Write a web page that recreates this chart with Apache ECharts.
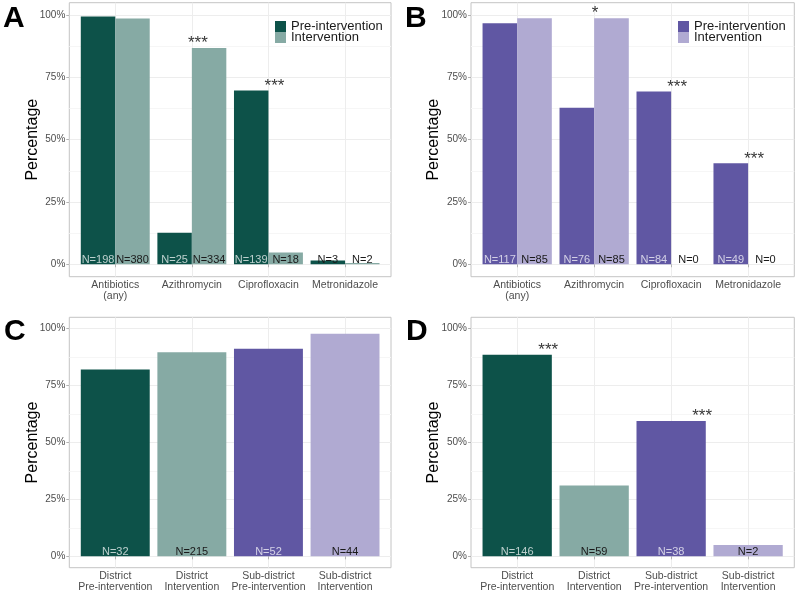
<!DOCTYPE html>
<html><head><meta charset="utf-8">
<script src="https://cdn.jsdelivr.net/npm/echarts@6/dist/echarts.min.js"></script>
<style>html,body{margin:0;padding:0;background:#fff}#c{width:797px;height:593px}</style>
</head><body><div id="c"></div>
<script>
// ---------- data ----------
const drugCategories = ['Antibiotics\n(any)', 'Azithromycin', 'Ciprofloxacin', 'Metronidazole'];
const siteCategories = ['District\nPre-intervention', 'District\nIntervention', 'Sub-district\nPre-intervention', 'Sub-district\nIntervention'];
const seriesNames = ['Pre-intervention', 'Intervention'];
const panelLetters = ['A', 'B', 'C', 'D'];
const yTicks = [0, 25, 50, 75, 100];
const yMinorTicks = [12.5, 37.5, 62.5, 87.5];

const aPre = [99.5, 12.6, 69.8, 1.5];
const aInt = [98.7, 86.8, 4.7, 0.5];
const aPreN = [198, 25, 139, 3];
const aIntN = [380, 334, 18, 2];
const aStars = ['', '***', '***', ''];

const bPre = [96.7, 62.8, 69.4, 40.5];
const bInt = [98.8, 98.8, 0, 0];
const bPreN = [117, 76, 84, 49];
const bIntN = [85, 85, 0, 0];
const bStars = ['', '*', '***', '***'];

const cVals = [82.1, 89.6, 91.2, 97.8];
const cN = [32, 215, 52, 44];

const dVals = [88.5, 31.1, 59.4, 5.0];
const dN = [146, 59, 38, 2];
const dStars = ['***', '', '***', ''];

// ---------- style ----------
const F = 'Liberation Sans, Arial, Helvetica, sans-serif';
const tealDark = '#0D5249', tealLight = '#86AAA4';
const purpDark = '#6057A3', purpLight = '#B0AAD2';
const siteColors = [tealDark, tealLight, purpDark, purpLight];
const lightText = 'rgba(255,255,255,0.72)', darkText = '#1A1A1A';

const grids = [
  {left: 69.3, top: 2.7, width: 321.7, height: 274},
  {left: 471, top: 2.7, width: 323.3, height: 274},
  {left: 69.3, top: 317.3, width: 321.7, height: 250.4},
  {left: 471, top: 317.3, width: 323.3, height: 250.4}
].map(g => Object.assign(g, {show: true, borderColor: '#C4C4C4', borderWidth: 1, backgroundColor: 'transparent'}));

function xAxisFor(gi, cats) {
  return {
    type: 'value', gridIndex: gi, min: 0.4, max: 4.6,
    axisLine: {show: false},
    axisTick: {show: true, customValues: [1, 2, 3, 4], length: 3, lineStyle: {color: '#B3B3B3'}},
    axisLabel: {customValues: [1, 2, 3, 4], formatter: v => cats[Math.round(v) - 1],
      fontSize: 10.5, lineHeight: 11, color: '#4D4D4D', margin: 3, fontFamily: F},
    splitLine: {show: true, lineStyle: {color: '#EDEDED', width: 1}}
  };
}
function yAxesFor(gi) {
  return [{
    type: 'value', gridIndex: gi, min: -5, max: 105,
    name: 'Percentage', nameLocation: 'middle', nameGap: 29, nameMoveOverlap: false,
    nameTextStyle: {fontSize: 16, color: '#000', fontFamily: F},
    axisLine: {show: false},
    axisTick: {show: true, customValues: yTicks, length: 3, lineStyle: {color: '#B3B3B3'}},
    axisLabel: {customValues: yTicks, formatter: v => v + '%', fontSize: 10, color: '#4D4D4D', margin: 4, fontFamily: F},
    splitLine: {show: true, lineStyle: {color: '#EDEDED', width: 1}}
  }, {
    type: 'value', gridIndex: gi, min: -5, max: 105, position: 'left',
    axisLine: {show: false},
    axisTick: {show: false, customValues: yMinorTicks},
    axisLabel: {show: false, customValues: yMinorTicks},
    splitLine: {show: true, lineStyle: {color: '#F6F6F6', width: 1}}
  }];
}

function labelCfg(nArr) {
  return {
    show: true, position: 'insideBottom', distance: -1,
    fontSize: 11, lineHeight: 11, fontFamily: F,
    formatter: p => 'N=' + nArr[p.dataIndex]
  };
}
function pairBars(gi, pre, int, preN, intN, cPre, cInt) {
  return [
    {type: 'bar', name: seriesNames[0], xAxisIndex: gi, yAxisIndex: 2 * gi,
      barGap: '0%', barCategoryGap: '10%', itemStyle: {color: cPre},
      label: labelCfg(preN),
      data: pre.map((v, i) => ({value: [i + 1, v], label: {color: v < 5 ? darkText : lightText}}))},
    {type: 'bar', name: seriesNames[1], xAxisIndex: gi, yAxisIndex: 2 * gi,
      barGap: '0%', barCategoryGap: '10%', itemStyle: {color: cInt},
      label: labelCfg(intN),
      data: int.map((v, i) => ({value: [i + 1, v], label: {color: darkText}}))}
  ];
}
function siteBars(gi, vals, ns) {
  return {type: 'bar', xAxisIndex: gi, yAxisIndex: 2 * gi, barCategoryGap: '10%',
    label: labelCfg(ns),
    data: vals.map((v, i) => ({value: [i + 1, v], itemStyle: {color: siteColors[i]},
      label: {color: (i % 2 === 0) ? lightText : darkText}}))};
}
function starSeries(gi, stars, heights, dxFn) {
  const d = [];
  stars.forEach((s, i) => { if (s) d.push({value: [i + 1, heights[i]], label: {formatter: s, offset: [dxFn(s), 0]}}); });
  return {type: 'scatter', xAxisIndex: gi, yAxisIndex: 2 * gi, symbolSize: 0, silent: true, z: 5,
    label: {show: true, position: 'top', distance: -4, fontSize: 17, color: '#000', fontFamily: F},
    data: d};
}
const maxOf = (a, b) => a.map((v, i) => Math.max(v, b[i]));
const pairDx = s => s.length > 1 ? 6 : 1;

const legendText = {fontSize: 13, color: '#1A1A1A', fontFamily: F, lineHeight: 11};
const option = {
  animation: false,
  backgroundColor: '#fff',
  textStyle: {fontFamily: F},
  title: [
    {text: panelLetters[0], left: 3, top: 4},
    {text: panelLetters[1], left: 405, top: 4},
    {text: panelLetters[2], left: 4, top: 317},
    {text: panelLetters[3], left: 406, top: 317}
  ].map(t => Object.assign(t, {padding: 0, textStyle: {fontSize: 30, fontWeight: 'bold', color: '#000', fontFamily: F}})),
  legend: [
    {left: 275, top: 20, orient: 'vertical', icon: 'rect', itemWidth: 11, itemHeight: 11, itemGap: -2,
      padding: 0, selectedMode: false, textStyle: legendText,
      data: [{name: seriesNames[0], itemStyle: {color: tealDark}}, {name: seriesNames[1], itemStyle: {color: tealLight}}]},
    {left: 678, top: 20, orient: 'vertical', icon: 'rect', itemWidth: 11, itemHeight: 11, itemGap: -2,
      padding: 0, selectedMode: false, textStyle: legendText,
      data: [{name: seriesNames[0], itemStyle: {color: purpDark}}, {name: seriesNames[1], itemStyle: {color: purpLight}}]}
  ],
  grid: grids,
  xAxis: [xAxisFor(0, drugCategories), xAxisFor(1, drugCategories), xAxisFor(2, siteCategories), xAxisFor(3, siteCategories)],
  yAxis: [].concat(yAxesFor(0), yAxesFor(1), yAxesFor(2), yAxesFor(3)),
  series: [].concat(
    pairBars(0, aPre, aInt, aPreN, aIntN, tealDark, tealLight),
    pairBars(1, bPre, bInt, bPreN, bIntN, purpDark, purpLight),
    [siteBars(2, cVals, cN), siteBars(3, dVals, dN),
     starSeries(0, aStars, maxOf(aPre, aInt), pairDx),
     starSeries(1, bStars, maxOf(bPre, bInt), pairDx),
     starSeries(3, dStars, dVals, () => 31)]
  )
};
const chart = echarts.init(document.getElementById('c'), null, {renderer: 'canvas'});
chart.setOption(option);
</script></body></html>
